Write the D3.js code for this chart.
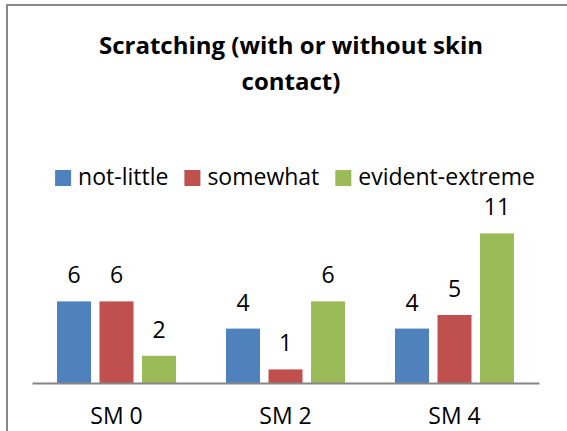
<!DOCTYPE html>
<html>
<head>
<meta charset="utf-8">
<script src="https://cdn.jsdelivr.net/npm/d3@7"></script>
<style>
  html, body { margin: 0; padding: 0; background: #fff; }
  svg { display: block; }
  text { font-family: "Open Sans", "Noto Sans", sans-serif; fill: #000; }
</style>
</head>
<body>
<svg id="chart" width="567" height="431"></svg>
<script>
const categories = ["SM 0", "SM 2", "SM 4"];
const seriesNames = ["not-little", "somewhat", "evident-extreme"];
const notLittle = [6, 4, 4];
const somewhat = [6, 1, 5];
const evidentExtreme = [2, 6, 11];
const colors = ["#4F81BD", "#C0504D", "#9BBB59"];
const titleLines = ["Scratching (with or without skin", "contact)"];

const seriesValues = [notLittle, somewhat, evidentExtreme];
const svg = d3.select("#chart");
const W = 567, H = 431;

// chart border (extends beyond visible area on right/bottom)
svg.append("rect")
  .attr("x", 7).attr("y", 5)
  .attr("width", W + 20).attr("height", H + 20)
  .attr("fill", "#fff")
  .attr("stroke", "#888888").attr("stroke-width", 2);

// title
const title = svg.append("text")
  .attr("text-anchor", "middle")
  .attr("font-weight", "bold")
  .attr("font-size", 24);
titleLines.forEach((t, i) => {
  title.append("tspan").attr("x", 291).attr("y", 54 + i * 36).text(t);
});

// scales
const x = d3.scaleBand().domain(categories).range([32, 539]).paddingInner(0).paddingOuter(0);
const xs = d3.scaleBand().domain(seriesNames).range([25, 144]).paddingInner(0.2).paddingOuter(0);
const y = d3.scaleLinear().domain([0, 12]).range([383, 383 - 12 * 13.6]);

// bars
const data = [];
categories.forEach((c, ci) => {
  seriesNames.forEach((s, si) => {
    data.push({ cat: c, ser: s, si, v: seriesValues[si][ci] });
  });
});

const g = svg.append("g");
g.selectAll("rect.bar").data(data).join("rect")
  .attr("class", "bar")
  .attr("x", d => x(d.cat) + xs(d.ser))
  .attr("y", d => y(d.v))
  .attr("width", xs.bandwidth())
  .attr("height", d => y(0) - y(d.v))
  .attr("fill", d => colors[d.si]);

g.selectAll("text.val").data(data).join("text")
  .attr("class", "val")
  .attr("x", d => x(d.cat) + xs(d.ser) + xs.bandwidth() / 2)
  .attr("y", d => y(d.v) - 18)
  .attr("text-anchor", "middle")
  .attr("font-size", 23)
  .text(d => d.v);

// x axis
const xAxis = d3.axisBottom(x).tickSize(0).tickPadding(0);
const ax = svg.append("g").attr("transform", `translate(0,${y(0)})`).call(xAxis);
ax.select(".domain").attr("stroke", "#868686").attr("stroke-width", 2);
ax.selectAll(".tick text")
  .attr("font-size", 23)
  .attr("font-family", "'Open Sans', sans-serif")
  .attr("fill", "#000")
  .attr("dy", 0)
  .attr("y", 41);

// legend
const legend = svg.append("g").attr("transform", "translate(0,185)");
const sq = 16, gapText = 7, gapItem = 16;
const items = legend.selectAll("g").data(seriesNames).join("g");
items.append("rect")
  .attr("y", -15).attr("width", sq).attr("height", sq)
  .attr("fill", (d, i) => colors[i]);
items.append("text")
  .attr("x", sq + gapText).attr("y", 0)
  .attr("font-size", 23)
  .text(d => d);
let widths = [];
items.each(function() { widths.push(this.querySelector("text").getComputedTextLength()); });
const total = d3.sum(widths, w => sq + gapText + w) + gapItem * (widths.length - 1);
let cx = 295 - total / 2;
items.attr("transform", (d, i) => {
  const t = `translate(${cx},0)`;
  cx += sq + gapText + widths[i] + gapItem;
  return t;
});
</script>
</body>
</html>
